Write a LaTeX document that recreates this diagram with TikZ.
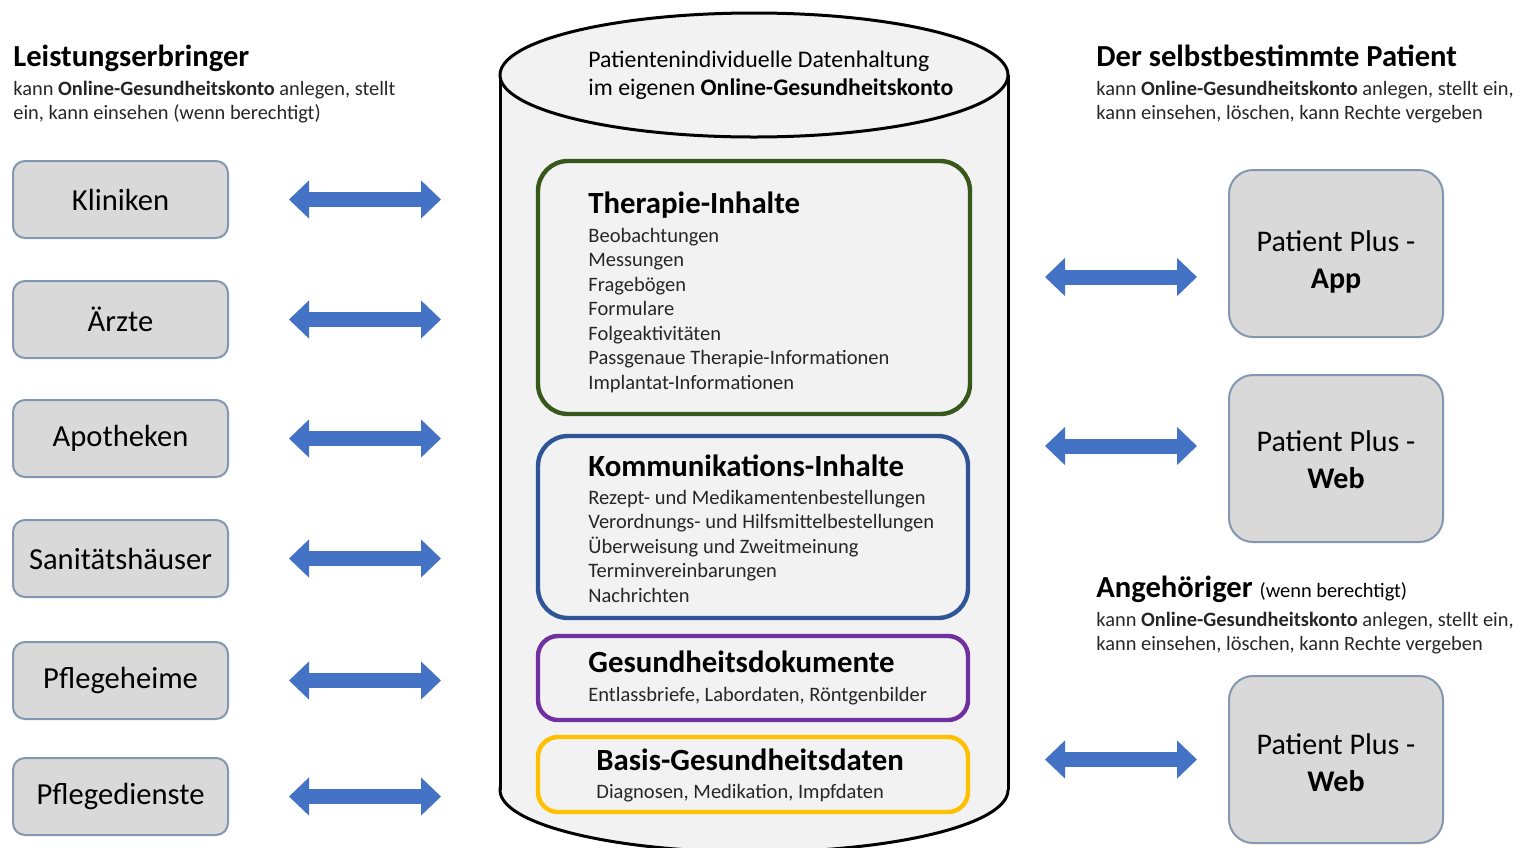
\documentclass[tikz,border=0pt]{standalone}
\usepackage{fontspec}
\setmainfont{Carlito}
\usetikzlibrary{arrows.meta,positioning}

\definecolor{boxgray}{HTML}{D9D9D9}
\definecolor{boxline}{HTML}{8497B0}
\definecolor{arrowblue}{HTML}{4472C4}
\definecolor{cylfill}{HTML}{F2F2F2}
\definecolor{thgreen}{HTML}{38571A}
\definecolor{kmblue}{HTML}{2F5597}
\definecolor{dkpurple}{HTML}{7030A0}
\definecolor{bsgold}{HTML}{FFC000}
\definecolor{subgray}{HTML}{262626}

\tikzset{
  provider/.style={draw=boxline, line width=1pt, fill=boxgray, rounded corners=6pt,
    minimum width=107.5pt, minimum height=38.5pt, font=\fontsize{15.3}{18}\selectfont},
  patientbox/.style={draw=boxline, line width=1pt, fill=boxgray, rounded corners=12pt,
    minimum width=107pt, minimum height=83.5pt},
  patienttext/.style={align=center, inner sep=0pt, font=\fontsize{15}{18.5}\selectfont},
  dblarrow/.style={draw=arrowblue, line width=7.5pt,
    {Triangle[width=18.5pt,length=10pt]}-{Triangle[width=18.5pt,length=10pt]}},
  datablock/.style={draw=#1, line width=2.2pt, inner sep=0pt},
  headline/.style={anchor=base west, inner sep=0pt, font=\fontsize{15.3}{18}\selectfont\bfseries},
  subline/.style={anchor=base west, inner sep=0pt, text=subgray, font=\fontsize{10.2}{12}\selectfont},
  blocktitle/.style={anchor=base west, inner sep=0pt, font=\fontsize{15.4}{18}\selectfont\bfseries},
  blockitem/.style={anchor=base west, inner sep=0pt, text=subgray, font=\fontsize{10.25}{12}\selectfont},
}

\begin{document}
\begin{tikzpicture}[x=0.5pt,y=-0.5pt]
  \useasboundingbox (0,0) rectangle (1530,847);
  \clip (0,0) rectangle (1530,847);

  % the cylinder with the data
  \filldraw[fill=cylfill, line width=1.5pt] (754,790) ellipse[x radius=254, y radius=62];
  \fill[cylfill] (500,75) rectangle (1008,790);
  \draw[line width=1.5pt] (500,75) -- (500,790) (1008,75) -- (1008,790);
  \filldraw[fill=cylfill, line width=1.5pt] (754,75) ellipse[x radius=254, y radius=62];

  \node[subline, text=black, font=\fontsize{11.9}{13}\selectfont] (dbline1) at (588,67) {Patientenindividuelle Datenhaltung};
  \node[subline, text=black, font=\fontsize{11.9}{13}\selectfont] (dbline2) at (588,95) {im eigenen \textbf{Online-Gesundheitskonto}};

  % data blocks
  \node[datablock=thgreen, rounded corners=15pt, minimum width=216pt, minimum height=126.5pt] (therapie) at (754,287.5) {};
  \node[datablock=kmblue, rounded corners=15pt, minimum width=215pt, minimum height=91pt] (kommunikation) at (753,527) {};
  \node[datablock=dkpurple, rounded corners=10pt, minimum width=215pt, minimum height=42pt] (dokumente) at (753,678) {};
  \node[datablock=bsgold, rounded corners=10pt, minimum width=215pt, minimum height=37.5pt] (basis) at (753,774.5) {};

  \node[blocktitle] (thtitle) at (588,213) {Therapie-Inhalte};
  \foreach \txt [count=\i from 0] in {Beobachtungen, Messungen, Fragebögen, Formulare,
      Folgeaktivitäten, Passgenaue Therapie-Informationen, Implantat-Informationen}
    \node[blockitem] (thitem\i) at (588,242+24.5*\i) {\txt};

  \node[blocktitle] (kmtitle) at (588,476) {Kommunikations-Inhalte};
  \foreach \txt [count=\i from 0] in {Rezept- und Medikamentenbestellungen,
      Verordnungs- und Hilfsmittelbestellungen, Überweisung und Zweitmeinung,
      Terminvereinbarungen, Nachrichten}
    \node[blockitem] (kmitem\i) at (588,504+24.5*\i) {\txt};

  \node[blocktitle] (doktitle) at (588,672) {Gesundheitsdokumente};
  \node[blockitem] (dokitem) at (588,701) {Entlassbriefe, Labordaten, Röntgenbilder};

  \node[blocktitle] (bstitle) at (596,770) {Basis-Gesundheitsdaten};
  \node[blockitem] (bsitem) at (596,798) {Diagnosen, Medikation, Impfdaten};

  % left side
  \node[headline] (lhead) at (13,66) {Leistungserbringer};
  \node[subline] (lsub1) at (13,95) {kann \textbf{Online-Gesundheitskonto} anlegen, stellt};
  \node[subline] (lsub2) at (13,119) {ein, kann einsehen (wenn berechtigt)};

  \foreach \name/\txt/\y in {kliniken/Kliniken/199.5, aerzte/Ärzte/319.5,
      apotheken/Apotheken/438.5, sanitaet/Sanitätshäuser/558.5,
      pflegeheime/Pflegeheime/680.5, pflegedienste/Pflegedienste/796.5}
  {
    \node[provider] (\name) at (120.5,\y) {\txt};
    \coordinate (\name-a) at ([xshift=30pt]\name.east);
    \coordinate (\name-b) at ([xshift=106pt]\name.east);
    \draw[dblarrow] (\name-a) -- (\name-b);
  }

  % right side
  \node[headline] (rhead) at (1096,66) {Der selbstbestimmte Patient};
  \node[subline] (rsub1) at (1096,95) {kann \textbf{Online-Gesundheitskonto} anlegen, stellt ein,};
  \node[subline] (rsub2) at (1096,119) {kann einsehen, löschen, kann Rechte vergeben};

  \node[headline] (ahead) at (1096,597) {Angehöriger \mdseries\fontsize{10.2}{12}\selectfont(wenn berechtigt)};
  \node[subline] (asub1) at (1096,626) {kann \textbf{Online-Gesundheitskonto} anlegen, stellt ein,};
  \node[subline] (asub2) at (1096,650) {kann einsehen, löschen, kann Rechte vergeben};

  \foreach \name/\txt/\y/\tshift/\ashift in {app/App/253.5/-4/-11.75,
      web/Web/458.5/-0.5/6.25, angweb/Web/759.5/-1.5/0}
  {
    \node[patientbox] (\name) at (1336,\y) {};
    \node[patienttext] (\name-txt) at ([yshift=\tshift pt]\name.center) {Patient Plus -\\\textbf{\txt}};
    \coordinate (\name-a) at ([xshift=-91.5pt, yshift=\ashift pt]\name.west);
    \coordinate (\name-b) at ([xshift=-15.5pt, yshift=\ashift pt]\name.west);
    \draw[dblarrow] (\name-a) -- (\name-b);
  }
\end{tikzpicture}
\end{document}
